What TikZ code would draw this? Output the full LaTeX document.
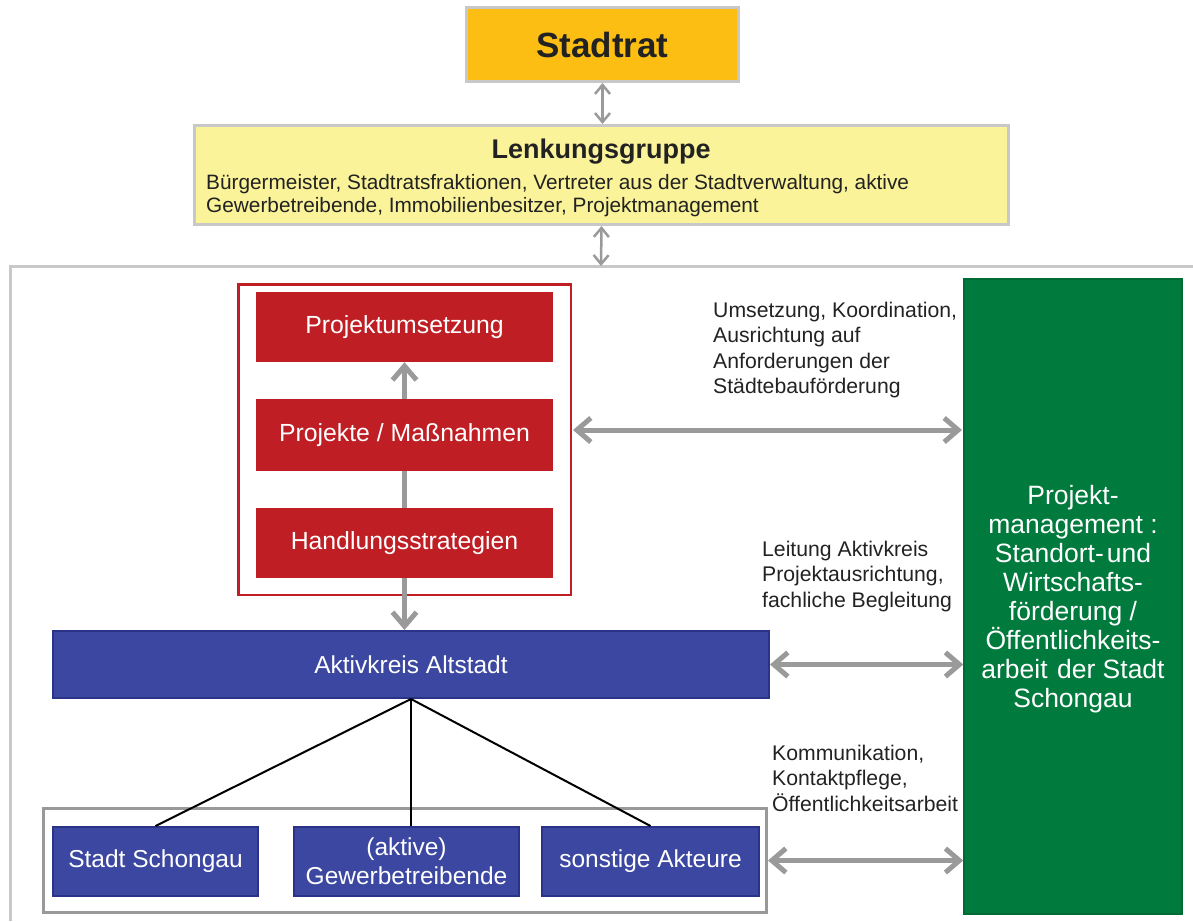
\documentclass[tikz,border=0pt]{standalone}
\usepackage{fontspec}
\setmainfont{Liberation Sans}
\usetikzlibrary{arrows.meta,calc}
\pgfdeclarelayer{bg}
\pgfdeclarelayer{mid}
\pgfsetlayers{bg,mid,main}
\definecolor{stadtorange}{HTML}{FDBE14}
\definecolor{lenkyellow}{HTML}{FAF39A}
\definecolor{framegray}{HTML}{C8C8C8}
\definecolor{arrowgray}{HTML}{9A9A9A}
\definecolor{boxgray}{HTML}{999999}
\definecolor{redc}{HTML}{BE1E24}
\definecolor{bluec}{HTML}{3B47A0}
\definecolor{blueborder}{HTML}{2B3388}
\definecolor{greenc}{HTML}{007A3D}
\definecolor{greenborder}{HTML}{006B35}
\definecolor{darktext}{HTML}{222222}
\begin{document}
\begin{tikzpicture}[x=1pt,y=-1pt,
  stadtbox/.style={draw=framegray, line width=3pt, fill=stadtorange, minimum width=272pt, minimum height=74pt, inner sep=0pt, font=\fontsize{35}{40}\selectfont\bfseries, text=darktext},
  lenkbox/.style={draw=framegray, line width=3pt, fill=lenkyellow, minimum width=814pt, minimum height=99pt, inner sep=0pt},
  lenktitle/.style={inner sep=0pt, font=\fontsize{27}{32}\selectfont\bfseries, text=darktext},
  lenkbody/.style={inner sep=0pt, anchor=west, align=left, font=\fontsize{20.8}{23}\selectfont, text=darktext},
  redframebox/.style={draw=redc, line width=2.5pt, fill=white, minimum width=332.5pt, minimum height=310.5pt, inner sep=0pt},
  redbox/.style={fill=redc, minimum width=297pt, inner sep=0pt, text=white, font=\fontsize{24.8}{28}\selectfont},
  bluebox/.style={fill=bluec, draw=blueborder, line width=2pt, inner sep=0pt, text=white, align=center, font=\fontsize{24.5}{29}\selectfont},
  graybox/.style={draw=boxgray, line width=3pt, fill=white, inner sep=0pt},
  greenbox/.style={fill=greenc, draw=greenborder, line width=1.5pt, minimum width=218pt, minimum height=635pt, inner sep=0pt},
  greentext/.style={inner sep=0pt, align=center, text=white, font=\fontsize{26.5}{29}\selectfont},
  lab/.style={anchor=north west, align=left, inner sep=0pt, text=darktext, font=\fontsize{21.2}{25.3}\selectfont},
  thinarrow/.style={draw=arrowgray, line width=2.5pt, {Straight Barb[length=9pt,width=15pt]}-{Straight Barb[length=9pt,width=15pt]}},
  thickarrow/.style={draw=arrowgray, line width=5pt, {Straight Barb[length=14pt,width=24pt]}-{Straight Barb[length=14pt,width=24pt]}},
  uparrow/.style={draw=arrowgray, line width=5pt, -{Straight Barb[length=14pt,width=24pt]}},
  linkline/.style={draw=black, line width=2pt}
]
\useasboundingbox (0,0) rectangle (1193,921);

% outer frame
\coordinate (ftr) at (1193,266);
\coordinate (ftop) at (601,266);
\coordinate (fbl) at (10,921);
\draw[framegray, line width=3pt] (ftr) -- (10,266) -- (fbl);

% top
\node[stadtbox] (stadtrat) at (602.5,44.5) {Stadtrat};
\node[lenkbox] (lenk) at (601.5,175) {};
\node[lenktitle] (lenkt) at (601,152) {Lenkungsgruppe};
\node[lenkbody] (lenkb) at (206,196) {B\"urgermeister, Stadtratsfraktionen, Vertreter aus der Stadtverwaltung, aktive\\Gewerbetreibende, Immobilienbesitzer, Projektmanagement};
\draw[thinarrow] (stadtrat.south) -- (stadtrat.south |- lenk.north);
\draw[thinarrow] (lenk.south) -- (ftop);

% red group
\begin{pgfonlayer}{bg}
\node[redframebox] (redframe) at (404.5,439.5) {};
\end{pgfonlayer}
\node[redbox, minimum height=70pt] (ums) at (404.5,327) {Projektumsetzung};
\node[redbox, minimum height=72pt] (mass) at (404.5,435) {Projekte / Ma\ss nahmen};
\node[redbox, minimum height=70pt] (hand) at (404.5,543) {Handlungsstrategien};
\begin{pgfonlayer}{mid}
\draw[uparrow] (hand.north) -- (ums.south);
\end{pgfonlayer}

% Aktivkreis
\node[bluebox, minimum width=716pt, minimum height=67pt] (akt) at (411,664.5) {Aktivkreis Altstadt};
\draw[uparrow] (hand.south) -- (hand.south |- akt.north);

% bottom group
\node[graybox, minimum width=723pt, minimum height=104pt] (cont) at (405,860.5) {};
\node[bluebox, minimum width=205pt, minimum height=69pt] (stadt) at (155.5,861.5) {Stadt Schongau};
\node[bluebox, minimum width=225pt, minimum height=69pt] (gew) at (406.5,861.5) {(aktive)\\Gewerbetreibende};
\node[bluebox, minimum width=217pt, minimum height=69pt] (sonst) at (650.5,861.5) {sonstige Akteure};
\draw[linkline] (akt.south) -- (stadt.north);
\draw[linkline] (akt.south) -- (akt.south |- gew.north);
\draw[linkline] (akt.south) -- (sonst.north);

% green
\node[greenbox] (green) at (1073,596.5) {};
\node[greentext] (greent) at (1073,599) {Projekt-\\management :\\Standort-\hspace{3pt}und\\Wirtschafts-\\f\"orderung /\\\"Offentlichkeits-\\arbeit\hspace{2pt} der Stadt\\Schongau};

% horizontal arrows
\coordinate (a1l) at (573,430);
\coordinate (a1r) at (962,430);
\draw[thickarrow] (a1l) -- (a1r);
\draw[thickarrow] (akt.east) -- (akt.east -| green.west);
\draw[thickarrow] (cont.east) -- (cont.east -| green.west);

% labels
\node[lab] (lab1) at (713,302) {Umsetzung, Koordination,\\Ausrichtung auf\\Anforderungen der\\St\"adtebauf\"orderung};
\node[lab] (lab2) at (762,541) {Leitung Aktivkreis\\Projektausrichtung,\\fachliche Begleitung};
\node[lab] (lab3) at (772,745) {Kommunikation,\\Kontaktpflege,\\\"Offentlichkeitsarbeit};
\end{tikzpicture}
\end{document}
